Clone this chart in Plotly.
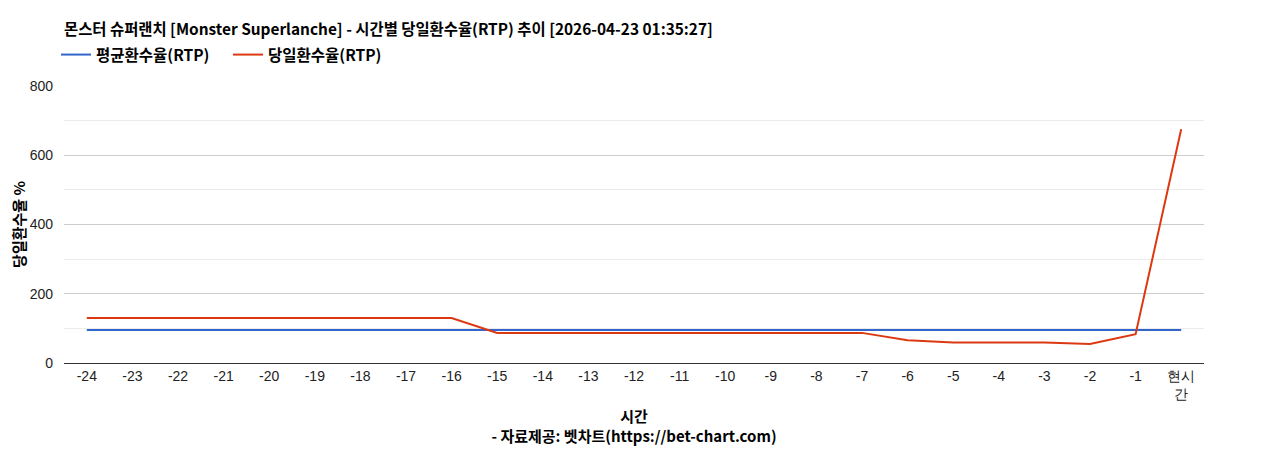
import plotly.graph_objects as go

categories = ["-24","-23","-22","-21","-20","-19","-18","-17","-16","-15","-14","-13",
              "-12","-11","-10","-9","-8","-7","-6","-5","-4","-3","-2","-1","현시간"]
tick_labels = categories[:-1] + ["현시<br>간"]
avg_rtp = [95]*25
day_rtp = [130,130,130,130,130,130,130,130,130,87,87,87,87,87,87,87,87,87,66,59,59,59,55,83,675]

font_main = "Liberation Sans, Arial, sans-serif"
font_bold = "Noto Sans CJK KR, sans-serif"

fig = go.Figure()
fig.add_trace(go.Scatter(x=categories, y=avg_rtp, mode="lines", name="<b>평균환수율(RTP)</b>",
                         line=dict(color="#3366cc", width=2)))
fig.add_trace(go.Scatter(x=categories, y=day_rtp, mode="lines", name="<b>당일환수율(RTP)</b>",
                         line=dict(color="#dc3912", width=2)))

fig.update_layout(
    width=1268, height=450,
    margin=dict(l=56, r=72, t=78, b=95, autoexpand=False),
    paper_bgcolor="white", plot_bgcolor="white",
    title=dict(text="<b>몬스터 슈퍼랜치 [Monster Superlanche] - 시간별 당일환수율(RTP) 추이 [2026-04-23 01:35:27]</b>",
               x=56/1268, xref="container", xanchor="left", y=1-22/450, yref="container", yanchor="middle",
               pad=dict(l=0, r=0, t=0, b=0),
               font=dict(family=font_bold, size=15.4, color="#000")),
    legend=dict(orientation="h", x=-0.007, xanchor="left", y=1+31/277, yanchor="middle",
                font=dict(family=font_bold, size=15.5, color="#000"),
                itemwidth=30, tracegroupgap=0, entrywidth=127, entrywidthmode="pixels"),
    showlegend=True,
    xaxis=dict(type="category", tickmode="array", tickvals=categories, ticktext=tick_labels,
               range=[-0.5, 24.5], showgrid=False, showline=True, linecolor="#333", linewidth=1,
               ticks="", automargin=False, tickfont=dict(family=font_main, size=14, color="#222"),
               title=dict(text="<b>시간</b><br><b>- 자료제공: 벳차트(https://bet-chart.com)</b>",
                          font=dict(family=font_bold, size=15, color="#000"), standoff=10)),
    yaxis=dict(range=[0, 800], dtick=200, showgrid=True, gridcolor="#cccccc", gridwidth=1,
               minor=dict(dtick=100, showgrid=True, gridcolor="#ebebeb"),
               zeroline=False, ticks="", automargin=False, ticklabelstandoff=10,
               tickfont=dict(family=font_main, size=14, color="#222"),
               title=dict(text="<b>당일환수율 %</b>", font=dict(family=font_bold, size=15, color="#000"),
                          standoff=8)),
)
fig.write_html("out.html")
